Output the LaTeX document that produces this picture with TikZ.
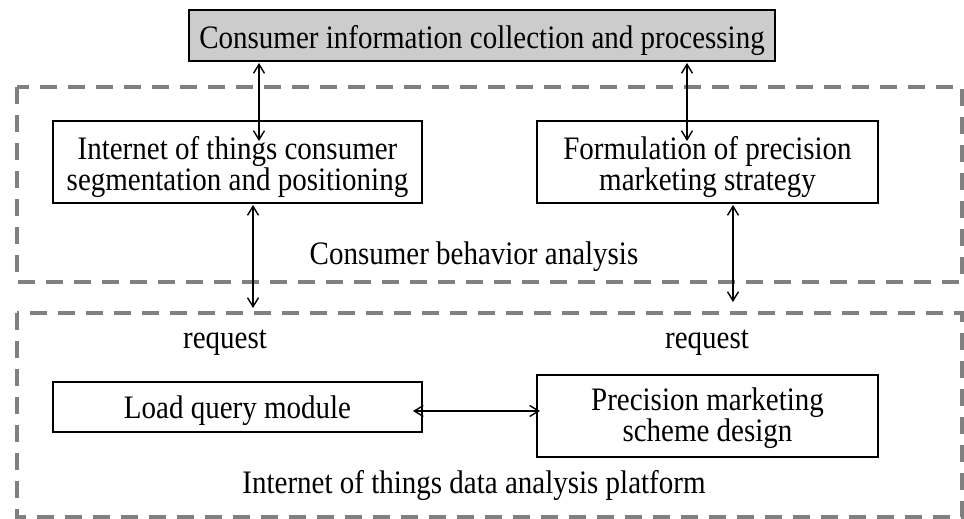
\documentclass[tikz,border=0pt]{standalone}
\usepackage{fontspec}
\usepackage{graphicx}
\setmainfont{Liberation Serif}
\usetikzlibrary{arrows.meta}
% text set a little taller than wide, first line as baseline
\newcommand{\tallrows}[1]{\scalebox{1}[1.13]{\begin{tabular}[t]{@{}c@{}}#1\end{tabular}}}
\begin{document}
\begin{tikzpicture}[x=1pt,y=-1pt,
  every node/.style={font=\fontsize{29}{24.8}\selectfont, inner sep=0pt},
  block/.style={draw=black, line width=1.5pt},
  oneline/.style={text height=22pt, text depth=0pt},
  twoline/.style={text height=22pt, text depth=28pt},
  region/.style={draw=black!50, line width=3.2pt, dash pattern=on 17pt off 11pt},
  biarrow/.style={line width=1.4pt, {Straight Barb[length=9pt,width=11pt]}-{Straight Barb[length=9pt,width=11pt]}},
  caption/.style={anchor=base}]
  \useasboundingbox (0,0) rectangle (964,519);

  % dashed regions
  \draw[region] (17,87) rectangle (962,282);
  \draw[region] (17,313) rectangle (962,517);

  % boxes
  \node[block, fill=black!20, minimum width=586pt, minimum height=51pt,
        text height=26pt, text depth=0pt] (collect) at (482,35.5)
    {\tallrows{Consumer information collection and processing}};
  \node[block, twoline, minimum width=369pt, minimum height=82pt] (segment) at (237.5,162)
    {\tallrows{Internet of things consumer\\segmentation and positioning}};
  \node[block, twoline, minimum width=341pt, minimum height=82pt] (strategy) at (707.5,162)
    {\tallrows{Formulation of precision\\marketing strategy}};
  \node[block, oneline, minimum width=369pt, minimum height=50pt] (query) at (237.5,407)
    {\tallrows{Load query module}};
  \node[block, minimum width=341pt, minimum height=82pt,
        text height=18pt, text depth=29pt] (scheme) at (707.5,416)
    {\tallrows{Precision marketing\\scheme design}};

  % region captions and request labels
  \node[caption] (behav) at (474,264) {\tallrows{Consumer behavior analysis}};
  \node[caption] (reqL) at (225,348) {\tallrows{request}};
  \node[caption] (reqR) at (707,348) {\tallrows{request}};
  \node[caption] (platform) at (474,493) {\tallrows{Internet of things data analysis platform}};

  % connector end points
  \coordinate (c1a) at (259,63);
  \coordinate (c1b) at (259,141);
  \coordinate (c2a) at (687,63);
  \coordinate (c2b) at (687,141);
  \coordinate (c3a) at (253,205);
  \coordinate (c3b) at (253,308);
  \coordinate (c4a) at (733,205);
  \coordinate (c4b) at (733,302);
  \coordinate (c5a) at (413,411);
  \coordinate (c5b) at (540,411);

  \draw[biarrow] (c1a) -- (c1b);
  \draw[biarrow] (c2a) -- (c2b);
  \draw[biarrow] (c3a) -- (c3b);
  \draw[biarrow] (c4a) -- (c4b);
  \draw[biarrow] (c5a) -- (c5b);
\end{tikzpicture}
\end{document}
